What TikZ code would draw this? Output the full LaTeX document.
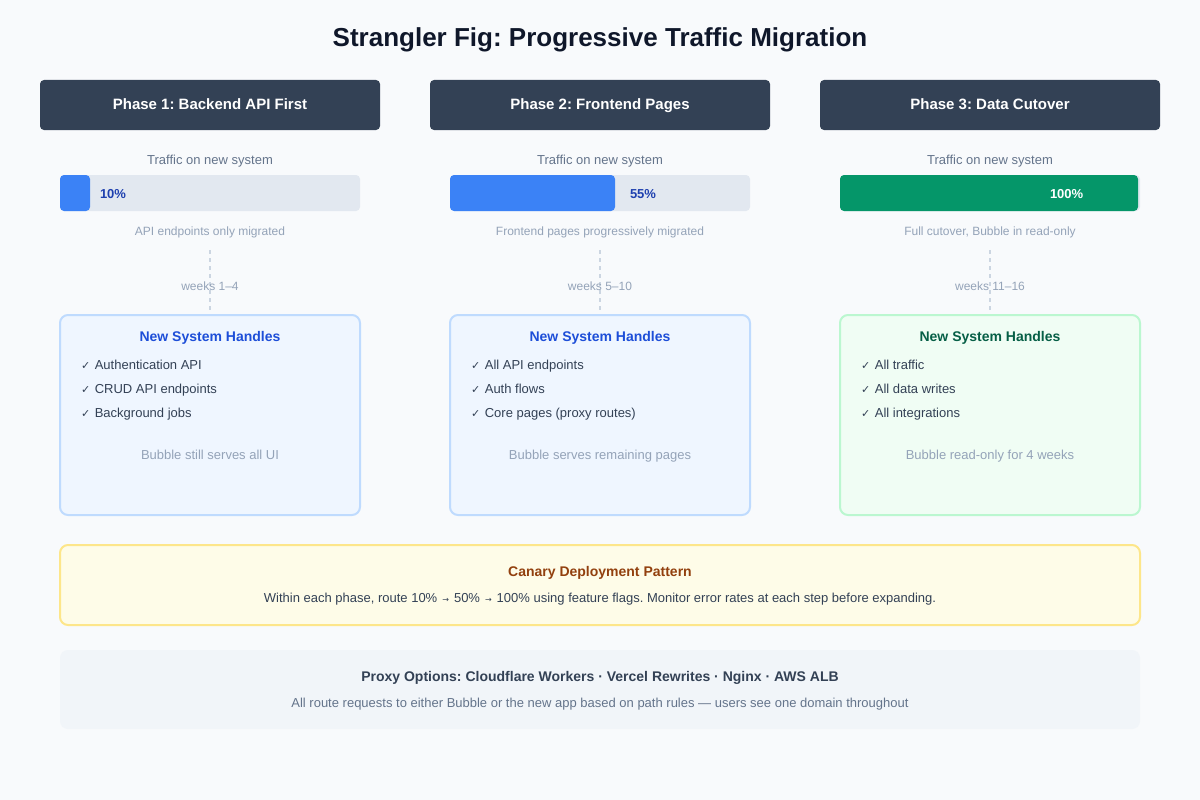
\documentclass[tikz,border=0pt]{standalone}
\usepackage{fontspec}
\setmainfont{Liberation Sans}
\newfontfamily\symfont{DejaVu Sans}
\frenchspacing
\definecolor{bgc}{HTML}{F8FAFC}
\definecolor{titlec}{HTML}{0F172A}
\definecolor{hdrc}{HTML}{334155}
\definecolor{mutedA}{HTML}{64748B}
\definecolor{mutedB}{HTML}{94A3B8}
\definecolor{trackc}{HTML}{E2E8F0}
\definecolor{barblue}{HTML}{3B82F6}
\definecolor{bluetext}{HTML}{1E40AF}
\definecolor{bargreen}{HTML}{059669}
\definecolor{dashc}{HTML}{CBD5E1}
\definecolor{cardbluefill}{HTML}{EFF6FF}
\definecolor{cardbluedraw}{HTML}{BFDBFE}
\definecolor{cardbluetitle}{HTML}{1D4ED8}
\definecolor{cardgreenfill}{HTML}{F0FDF4}
\definecolor{cardgreendraw}{HTML}{BBF7D0}
\definecolor{cardgreentitle}{HTML}{065F46}
\definecolor{itemc}{HTML}{334155}
\definecolor{canfill}{HTML}{FEFCE8}
\definecolor{candraw}{HTML}{FDE68A}
\definecolor{cantitle}{HTML}{92400E}
\definecolor{proxfill}{HTML}{F1F5F9}
\newcommand\ck{{\symfont\fontsize{11pt}{12pt}\selectfont ✓}}
\newcommand\arr{\hspace{5pt}{\symfont\fontsize{8pt}{12pt}\selectfont →}\hspace{5pt}}
\begin{document}
\begin{tikzpicture}[x=1pt,y=-1pt,
  every node/.style={inner sep=0pt, outer sep=0pt},
  txt/.style={text height=0.9em, text depth=-0.1em},
  titlestyle/.style={txt, font=\fontsize{26pt}{30pt}\selectfont\bfseries, text=titlec},
  phasehdr/.style={fill=hdrc, rounded corners=4pt, minimum width=340pt, minimum height=50pt,
     text=white, font=\fontsize{15pt}{18pt}\selectfont\bfseries, txt},
  traffic/.style={txt, font=\fontsize{13pt}{16pt}\selectfont, text=mutedA},
  track/.style={fill=trackc, rounded corners=4pt, minimum width=300pt, minimum height=36pt},
  barfill/.style={rounded corners=4pt, minimum height=36pt, anchor=west},
  pcttext/.style={txt, font=\fontsize{13pt}{16pt}\selectfont\bfseries, anchor=west},
  caption/.style={txt, font=\fontsize{12pt}{14pt}\selectfont, text=mutedB},
  dashline/.style={draw=dashc, line width=1.5pt, dash pattern=on 4pt off 4pt},
  cardblue/.style={fill=cardbluefill, draw=cardbluedraw, line width=2pt, rounded corners=8pt,
     minimum width=300pt, minimum height=200pt},
  cardgreen/.style={fill=cardgreenfill, draw=cardgreendraw, line width=2pt, rounded corners=8pt,
     minimum width=300pt, minimum height=200pt},
  cardtitle/.style={txt, font=\fontsize{14pt}{17pt}\selectfont\bfseries},
  item/.style={txt, font=\fontsize{13pt}{16pt}\selectfont, text=itemc, anchor=west},
  note/.style={txt, font=\fontsize{13pt}{16pt}\selectfont, text=mutedB},
  wide/.style={rounded corners=8pt, minimum width=1080pt, minimum height=80pt},
  widetitle/.style={txt, font=\fontsize{14pt}{17pt}\selectfont\bfseries},
  widetext/.style={txt, font=\fontsize{13pt}{16pt}\selectfont}
]
\useasboundingbox (0,0) rectangle (1200,800);
\fill[bgc] (0,0) rectangle (1200,800);

\node[titlestyle] (title) at (600,42) {Strangler Fig: Progressive Traffic Migration};

% Phase 1
\node[phasehdr] (h1) at (210,105) {Phase 1: Backend API First};
\node[traffic] (t1) at (210,160) {Traffic on new system};
\node[track] (tr1) at (210,193) {};
\node[barfill, fill=barblue, minimum width=30pt] (f1) at (60,193) {};
\node[pcttext, text=bluetext] (p1) at (100,194) {10\%};
\node[caption] (c1) at (210,231) {API endpoints only migrated};
\coordinate (d1a) at (210,250);
\coordinate (d1b) at (210,310);
\draw[dashline] (d1a) -- (d1b);
\node[caption] (w1) at (210,286) {weeks 1–4};
\node[cardblue] (k1) at (210,415) {};
\node[cardtitle, text=cardbluetitle] (kt1) at (210,337) {New System Handles};
\node[item] (i11) at (81,365) {\ck\hspace{1pt} Authentication API};
\node[item] (i12) at (81,389) {\ck\hspace{1pt} CRUD API endpoints};
\node[item] (i13) at (81,413) {\ck\hspace{1pt} Background jobs};
\node[note] (n1) at (210,455) {Bubble still serves all UI};

% Phase 2
\node[phasehdr] (h2) at (600,105) {Phase 2: Frontend Pages};
\node[traffic] (t2) at (600,160) {Traffic on new system};
\node[track] (tr2) at (600,193) {};
\node[barfill, fill=barblue, minimum width=165pt] (f2) at (450,193) {};
\node[pcttext, text=bluetext] (p2) at (630,194) {55\%};
\node[caption] (c2) at (600,231) {Frontend pages progressively migrated};
\coordinate (d2a) at (600,250);
\coordinate (d2b) at (600,310);
\draw[dashline] (d2a) -- (d2b);
\node[caption] (w2) at (600,286) {weeks 5–10};
\node[cardblue] (k2) at (600,415) {};
\node[cardtitle, text=cardbluetitle] (kt2) at (600,337) {New System Handles};
\node[item] (i21) at (471,365) {\ck\hspace{1pt} All API endpoints};
\node[item] (i22) at (471,389) {\ck\hspace{1pt} Auth flows};
\node[item] (i23) at (471,413) {\ck\hspace{1pt} Core pages (proxy routes)};
\node[note] (n2) at (600,455) {Bubble serves remaining pages};

% Phase 3
\node[phasehdr] (h3) at (990,105) {Phase 3: Data Cutover};
\node[traffic] (t3) at (990,160) {Traffic on new system};
\node[track] (tr3) at (990,193) {};
\node[barfill, fill=bargreen, minimum width=298pt] (f3) at (840,193) {};
\node[pcttext, text=white] (p3) at (1050,194) {100\%};
\node[caption] (c3) at (990,231) {Full cutover, Bubble in read-only};
\coordinate (d3a) at (990,250);
\coordinate (d3b) at (990,310);
\draw[dashline] (d3a) -- (d3b);
\node[caption] (w3) at (990,286) {weeks 11–16};
\node[cardgreen] (k3) at (990,415) {};
\node[cardtitle, text=cardgreentitle] (kt3) at (990,337) {New System Handles};
\node[item] (i31) at (861,365) {\ck\hspace{1pt} All traffic};
\node[item] (i32) at (861,389) {\ck\hspace{1pt} All data writes};
\node[item] (i33) at (861,413) {\ck\hspace{1pt} All integrations};
\node[note] (n3) at (990,455) {Bubble read-only for 4 weeks};

% Canary
\node[wide, fill=canfill, draw=candraw, line width=2pt] (can) at (600,585) {};
\node[widetitle, text=cantitle] (cant) at (600,572) {Canary Deployment Pattern};
\node[widetext, text=itemc] (canx) at (600,598) {Within each phase, route 10\%\arr50\%\arr100\% using feature flags. Monitor error rates at each step before expanding.};

% Proxy
\node[wide, fill=proxfill, minimum height=79pt] (prox) at (600,689.5) {};
\node[widetitle, text=itemc] (proxt) at (600,677) {Proxy Options: Cloudflare Workers · Vercel Rewrites · Nginx · AWS ALB};
\node[widetext, text=mutedA] (proxx) at (600,703) {All route requests to either Bubble or the new app based on path rules — users see one domain throughout};
\end{tikzpicture}
\end{document}
